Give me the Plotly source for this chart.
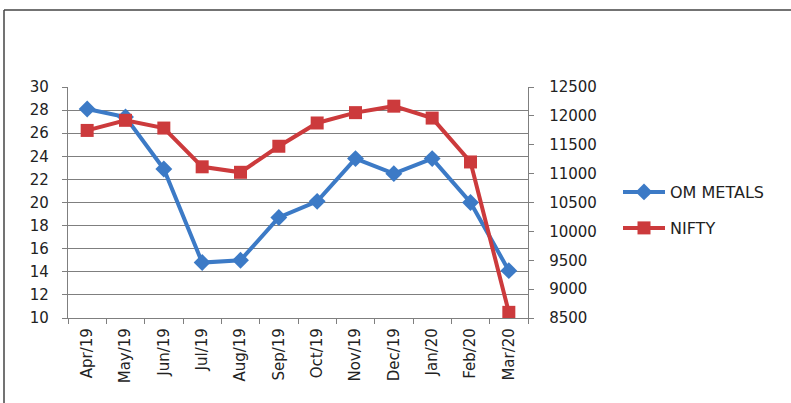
import plotly.graph_objects as go

months = ["Apr/19", "May/19", "Jun/19", "Jul/19", "Aug/19", "Sep/19",
          "Oct/19", "Nov/19", "Dec/19", "Jan/20", "Feb/20", "Mar/20"]
om_metals = [28.1, 27.4, 22.9, 14.8, 15.0, 18.7, 20.1, 23.8, 22.5, 23.8, 20.0, 14.1]
nifty = [11748, 11923, 11789, 11118, 11023, 11474, 11877, 12056, 12168, 11962, 11202, 8598]

left_ticks = list(range(10, 31, 2))
right_ticks = list(range(8500, 12501, 500))

BLUE = "#3c7ac6"
RED = "#cc3a3c"
GRID = "#7f7f7f"
FONT = "DejaVu Sans"

W, H = 791, 403
L, R, T, B = 68, 528, 87, 318  # plot area in pixels

fig = go.Figure()
fig.add_trace(go.Scatter(
    x=months, y=om_metals, name="OM METALS", mode="lines+markers",
    line=dict(color=BLUE, width=4),
    marker=dict(symbol="diamond", size=13, color=BLUE),
    yaxis="y", legend="legend", showlegend=True))
fig.add_trace(go.Scatter(
    x=months, y=nifty, name="NIFTY", mode="lines+markers",
    line=dict(color=RED, width=4),
    marker=dict(symbol="square", size=13, color=RED),
    yaxis="y2", legend="legend2", showlegend=True))

def px_x(p):
    return (p - L) / (R - L)

def px_y(p):
    return (B - p) / (B - T)

fig.update_layout(
    width=W, height=H, showlegend=True,
    margin=dict(l=L, r=W - R, t=T, b=H - B, pad=0),
    paper_bgcolor="white", plot_bgcolor="white",
    font=dict(family=FONT, size=15, color="#222"),
    xaxis=dict(type="category", range=[-0.5, 11.5], tickson="boundaries",
               ticks="outside", ticklen=5, tickcolor=GRID, tickangle=-90,
               showline=True, linecolor=GRID, linewidth=1.3, showgrid=False,
               tickfont=dict(size=15), ticklabelstandoff=3),
    yaxis=dict(range=[10, 30], tickvals=left_ticks, ticks="outside",
               ticklen=5, tickcolor=GRID, showline=True, linecolor=GRID,
               linewidth=1.3, showgrid=True, gridcolor=GRID, gridwidth=1.3,
               zeroline=False, ticklabelstandoff=10),
    yaxis2=dict(range=[8500, 12500], tickvals=right_ticks, tickformat="d",
                overlaying="y", side="right", ticks="outside", ticklen=5,
                tickcolor=GRID, showline=True, linecolor=GRID, linewidth=1.3,
                showgrid=False, zeroline=False, ticklabelstandoff=12),
    legend=dict(x=px_x(618), y=px_y(192), xanchor="left", yanchor="middle",
                bgcolor="rgba(0,0,0,0)", font=dict(size=16), itemwidth=42),
    legend2=dict(x=px_x(618), y=px_y(228), xanchor="left", yanchor="middle",
                 bgcolor="rgba(0,0,0,0)", font=dict(size=16), itemwidth=42),
    shapes=[
        dict(type="line", xref="paper", yref="paper",
             x0=px_x(4), x1=px_x(W), y0=px_y(10), y1=px_y(10),
             line=dict(color="#444", width=1.5)),
        dict(type="line", xref="paper", yref="paper",
             x0=px_x(4), x1=px_x(4), y0=px_y(10), y1=px_y(H),
             line=dict(color="#444", width=1.5)),
    ],
)

fig.write_html("out.html", config={"displayModeBar": False},
               post_script="document.body.style.margin='0';")
